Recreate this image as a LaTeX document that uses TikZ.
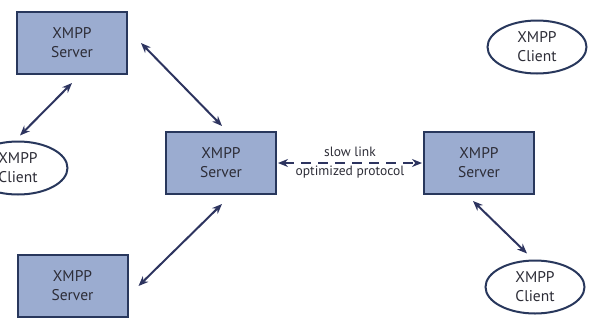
\documentclass[tikz,border=0pt]{standalone}
\usepackage{fontspec}
\setmainfont{PT Sans}
\usetikzlibrary{arrows.meta,calc,shapes.geometric}
\definecolor{boxfill}{RGB}{155,172,208}
\definecolor{boxline}{RGB}{40,55,92}
\definecolor{arrowc}{RGB}{45,52,95}
\definecolor{txt}{RGB}{45,45,55}
\tikzset{
  server/.style={draw=boxline, line width=2pt, fill=boxfill, rectangle,
    minimum width=110pt, minimum height=62pt, align=center, text=txt,
    font=\fontsize{15.5}{19}\selectfont},
  client/.style={draw=boxline, line width=2pt, fill=white, ellipse,
    minimum width=99pt, minimum height=53pt, inner sep=0pt, align=center, text=txt,
    font=\fontsize{15.5}{19}\selectfont},
  link/.style={draw=arrowc, line width=2pt, {Stealth[length=10pt,width=8pt]}-{Stealth[length=10pt,width=8pt]}},
  lbl/.style={text=txt, font=\fontsize{13.5}{15}\selectfont, inner sep=0pt}
}
\begin{document}
\begin{tikzpicture}[x=1pt,y=-1pt]
\useasboundingbox (0,0) rectangle (600,325);
\clip (0,0) rectangle (600,325);
\node[server] (s1) at (72,43) {XMPP\\Server};
\node[server] (s2) at (221,163) {XMPP\\Server};
\node[server] (s3) at (479,163) {XMPP\\Server};
\node[server] (s4) at (72.5,286) {XMPP\\Server};
\node[client] (c1) at (18,168) {XMPP\\Client};
\node[client] (c2) at (537,47) {XMPP\\Client};
\node[client] (c3) at (535,287) {XMPP\\Client};
\draw[link] ($(s1.south)+(0,8)$) -- ($(c1.north)+(2,-5)$);
\draw[link] ($(s1.east)+(13,0)$) -- ($(s2.north)+(1,-5)$);
\draw[link] ($(s2.south)+(1,9)$) -- ($(s4.east)+(10,0)$);
\draw[link] ($(s3.south)+(-6,6)$) -- ($(c3.north)+(-8,-6)$);
\draw[link, dash pattern=on 10pt off 7pt] ($(s2.east)+(1,0)$) -- ($(s3.west)+(-1,0)$);
\node[lbl] (l1) at (350,152) {slow link};
\node[lbl] (l2) at (350,172) {optimized protocol};
\end{tikzpicture}
\end{document}
